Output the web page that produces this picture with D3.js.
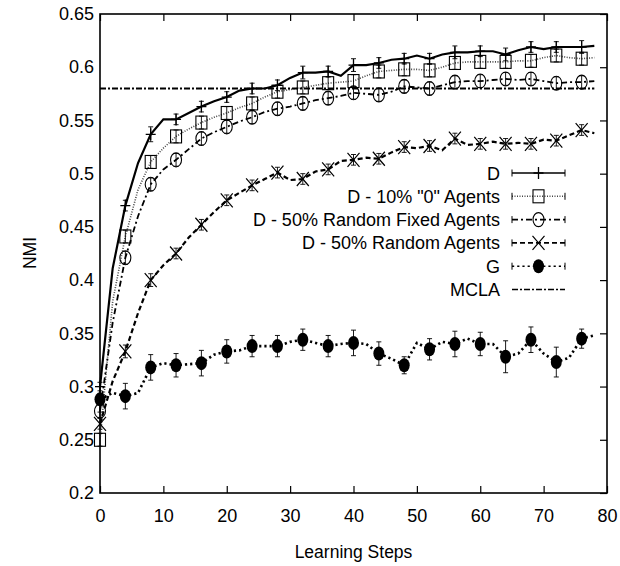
<!DOCTYPE html>
<html><head><meta charset="utf-8">
<script src="https://cdn.jsdelivr.net/npm/d3@7/dist/d3.min.js"></script>
<style>
html,body{margin:0;padding:0;background:#fff;}
svg{display:block;font-family:"Liberation Sans",Arial,Helvetica,sans-serif;}
</style></head>
<body><svg id="chart" width="620" height="566"></svg>
<script>
// ---- data ----
const steps = [0,2,4,6,8,10,12,14,16,18,20,22,24,26,28,30,32,34,36,38,40,42,44,46,48,50,52,54,56,58,60,62,64,66,68,70,72,74,76,78];
const markerSteps = [0,4,8,12,16,20,24,28,32,36,40,44,48,52,56,60,64,68,72,76];
const xTicks = [0,10,20,30,40,50,60,70,80];
const yTicks = [0.2,0.25,0.3,0.35,0.4,0.45,0.5,0.55,0.6,0.65];
const seriesNames = ["D","D - 10% \"0\" Agents","D - 50% Random Fixed Agents","D - 50% Random Agents","G","MCLA"];

const valD = [0.300,0.411,0.470,0.510,0.537,0.551,0.551,0.557,0.563,0.568,0.572,0.578,0.580,0.580,0.583,0.590,0.595,0.595,0.596,0.592,0.602,0.602,0.604,0.607,0.608,0.611,0.608,0.612,0.614,0.614,0.615,0.615,0.612,0.616,0.619,0.617,0.619,0.619,0.619,0.620];
const valZero = [0.250,0.380,0.441,0.485,0.511,0.524,0.535,0.542,0.548,0.553,0.557,0.562,0.566,0.572,0.577,0.579,0.581,0.583,0.585,0.586,0.587,0.592,0.596,0.597,0.598,0.598,0.597,0.600,0.604,0.605,0.605,0.605,0.605,0.606,0.606,0.609,0.611,0.609,0.608,0.609];
const valFixed = [0.277,0.360,0.421,0.460,0.490,0.504,0.513,0.523,0.533,0.539,0.544,0.549,0.553,0.558,0.561,0.563,0.566,0.569,0.571,0.573,0.576,0.575,0.574,0.577,0.582,0.581,0.580,0.583,0.586,0.587,0.587,0.588,0.589,0.588,0.589,0.587,0.585,0.586,0.586,0.587];
const valRandom = [0.265,0.305,0.333,0.369,0.400,0.414,0.425,0.440,0.452,0.464,0.475,0.482,0.489,0.495,0.501,0.494,0.495,0.502,0.504,0.512,0.513,0.515,0.514,0.520,0.525,0.524,0.526,0.522,0.533,0.527,0.528,0.530,0.528,0.529,0.528,0.532,0.531,0.536,0.541,0.538];
const valG = [0.288,0.294,0.291,0.294,0.318,0.322,0.320,0.321,0.322,0.330,0.333,0.334,0.338,0.338,0.338,0.342,0.344,0.341,0.338,0.340,0.341,0.340,0.331,0.326,0.320,0.341,0.335,0.342,0.340,0.345,0.340,0.340,0.328,0.331,0.344,0.331,0.323,0.327,0.345,0.348];
const mclaValue = 0.58;
const mclaSteps = [0,78];

const errD = [0.004,0.005,0.007,0.005,0.005,0.005,0.005,0.005,0.006,0.005,0.006,0.005,0.005,0.005,0.006,0.005,0.006,0.005,0.005,0.006];
const errZero = [0.006,0.006,0.006,0.006,0.006,0.006,0.006,0.006,0.006,0.006,0.006,0.006,0.006,0.006,0.006,0.006,0.006,0.006,0.006,0.006];
const errFixed = [0.006,0.006,0.006,0.006,0.006,0.006,0.006,0.006,0.006,0.006,0.006,0.006,0.006,0.006,0.006,0.006,0.006,0.006,0.006,0.006];
const errRandom = [0.005,0.006,0.006,0.005,0.005,0.005,0.005,0.005,0.005,0.005,0.005,0.005,0.005,0.005,0.005,0.005,0.005,0.005,0.005,0.005];
const errG = [0.012,0.012,0.012,0.011,0.012,0.011,0.010,0.010,0.010,0.010,0.012,0.011,0.008,0.010,0.012,0.011,0.015,0.012,0.014,0.009];

// ---- drawing ----
const svg = d3.select("#chart");
const L = 100, R = 607, T = 14, B = 493;
const x = d3.scaleLinear().domain([0,80]).range([L,R]);
const y = d3.scaleLinear().domain([0.2,0.65]).range([B,T]);

// axes
const fs = "18px";
const gB = svg.append("g").attr("transform",`translate(0,${B})`)
  .call(d3.axisBottom(x).tickValues(xTicks).tickSizeInner(-7).tickSizeOuter(0).tickPadding(16).tickFormat(d3.format("d")));
gB.selectAll("text").attr("font-size",fs).attr("fill","#000").attr("font-family","Liberation Sans, Arial, sans-serif");
const gT = svg.append("g").attr("transform",`translate(0,${T})`)
  .call(d3.axisTop(x).tickValues(xTicks).tickSizeInner(-7).tickSizeOuter(0).tickFormat(""));
const gL = svg.append("g").attr("transform",`translate(${L},0)`)
  .call(d3.axisLeft(y).tickValues(yTicks).tickSizeInner(0).tickSizeOuter(0).tickPadding(6).tickFormat(d => d3.format("")(+d.toFixed(2))));
gL.selectAll("text").attr("font-size",fs).attr("fill","#000").attr("font-family","Liberation Sans, Arial, sans-serif");
const gR = svg.append("g").attr("transform",`translate(${R},0)`)
  .call(d3.axisRight(y).tickValues(yTicks).tickSizeInner(-7).tickSizeOuter(0).tickFormat(""));
[gB,gT,gL,gR].forEach(g => { g.select(".domain").remove(); g.selectAll("line").attr("stroke","#000").attr("stroke-width",1.2); });

svg.append("rect").attr("x",L).attr("y",T).attr("width",R-L).attr("height",B-T)
  .attr("fill","none").attr("stroke","#000").attr("stroke-width",1.6);

svg.append("text").attr("x",(L+R)/2).attr("y",558).attr("text-anchor","middle")
  .attr("font-size","17.5px").text("Learning Steps");
svg.append("text").attr("transform","translate(36,253) rotate(-90)").attr("text-anchor","middle")
  .attr("font-size","17.5px").text("NMI");

const plot = svg.append("g");
const lineGen = d3.line().x(d => x(d[0])).y(d => y(d[1]));

const defs = [
  {vals: valD, err: errD, dash: null, w: 2.2, color:"#000", marker:"plus"},
  {vals: valZero, err: errZero, dash: "1,1.5", w: 1.6, color:"#444", marker:"square"},
  {vals: valFixed, err: errFixed, dash: "6,3,2,3", w: 1.8, color:"#000", marker:"circle"},
  {vals: valRandom, err: errRandom, dash: "5,3", w: 2.2, color:"#000", marker:"cross"},
  {vals: valG, err: errG, dash: "2.2,3", w: 2.6, color:"#000", marker:"dot"}
];

function drawMarker(g, type, cx, cy) {
  if (type === "plus") {
    g.append("path").attr("d",`M${cx-5},${cy}H${cx+5}M${cx},${cy-6}V${cy+6}`).attr("stroke","#000").attr("stroke-width",1.3).attr("fill","none");
  } else if (type === "square") {
    g.append("rect").attr("x",cx-5.5).attr("y",cy-6.5).attr("width",11).attr("height",13).attr("fill","none").attr("stroke","#000").attr("stroke-width",1.1);
  } else if (type === "circle") {
    g.append("ellipse").attr("cx",cx).attr("cy",cy).attr("rx",5.5).attr("ry",7).attr("fill","none").attr("stroke","#000").attr("stroke-width",1.1);
  } else if (type === "cross") {
    g.append("path").attr("d",`M${cx-6},${cy-7}L${cx+6},${cy+7}M${cx-6},${cy+7}L${cx+6},${cy-7}`).attr("stroke","#000").attr("stroke-width",1.2).attr("fill","none");
  } else if (type === "dot") {
    g.append("ellipse").attr("cx",cx).attr("cy",cy).attr("rx",5.5).attr("ry",7).attr("fill","#000");
  }
}

defs.forEach(s => {
  const pts = steps.map((st,i) => [st, s.vals[i]]);
  plot.append("path").attr("d", lineGen(pts)).attr("fill","none")
    .attr("stroke", s.color).attr("stroke-width", s.w)
    .attr("stroke-dasharray", s.dash);
  markerSteps.forEach((st,j) => {
    const v = s.vals[steps.indexOf(st)];
    const cx = x(st), y1 = y(v - s.err[j]), y2 = y(v + s.err[j]);
    plot.append("path").attr("d",`M${cx},${y1}V${y2}M${cx-2.5},${y1}H${cx+2.5}M${cx-2.5},${y2}H${cx+2.5}`)
      .attr("stroke","#000").attr("stroke-width",0.9).attr("fill","none");
    drawMarker(plot, s.marker, cx, y(v));
  });
});

// MCLA
plot.append("path").attr("d", lineGen(mclaSteps.map(s => [s, mclaValue])))
  .attr("fill","none").attr("stroke","#000").attr("stroke-width",2).attr("stroke-dasharray","6,2,2,2");

// legend
const legY0 = 173, legDy = 23.3, legTextX = 500, legX1 = 512, legX2 = 565;
const legStyles = defs.concat([{dash:"6,2,2,2", w:2, color:"#000", marker:null}]);
seriesNames.forEach((name,i) => {
  const ly = legY0 + i*legDy;
  const s = legStyles[i];
  svg.append("text").attr("x",legTextX).attr("y",ly+6.5).attr("text-anchor","end")
    .attr("font-size","18px").text(name);
  svg.append("line").attr("x1",legX1).attr("x2",legX2).attr("y1",ly).attr("y2",ly)
    .attr("stroke",s.color).attr("stroke-width", Math.min(s.w,1.6)).attr("stroke-dasharray",s.dash);
  if (s.marker) {
    svg.append("path").attr("d",`M${legX1},${ly-3.5}V${ly+3.5}M${legX2},${ly-3.5}V${ly+3.5}`)
      .attr("stroke","#000").attr("stroke-width",1);
    drawMarker(svg, s.marker, (legX1+legX2)/2, ly);
  }
});
</script></body></html>
